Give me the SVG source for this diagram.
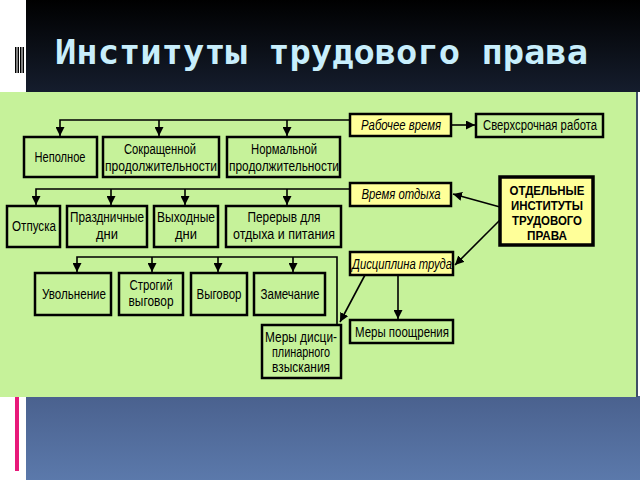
<svg xmlns="http://www.w3.org/2000/svg" width="640" height="480" viewBox="0 0 640 480">
<defs>
<linearGradient id="hdr" x1="0" y1="0" x2="0" y2="1"><stop offset="0" stop-color="#000000"/><stop offset="1" stop-color="#151d2d"/></linearGradient>
<linearGradient id="blu" x1="0" y1="0" x2="0" y2="1"><stop offset="0" stop-color="#4a618e"/><stop offset="1" stop-color="#5b79ab"/></linearGradient>
<marker id="ah" viewBox="0 0 10 10" refX="10" refY="5" markerWidth="9" markerHeight="9" markerUnits="userSpaceOnUse" orient="auto"><path d="M0,0 L10,5 L0,10 Z" fill="#000"/></marker>
<style>
.box{fill:#c6f29a;stroke:#000;stroke-width:2.5}
.ybox{fill:#ffff99;stroke:#000;stroke-width:2.5}
.main{fill:#ffff99;stroke:#000;stroke-width:3.5}
.t{font-family:"Liberation Sans","DejaVu Sans",sans-serif;font-size:14px;fill:#000;text-anchor:middle}
.i{font-style:italic}
.b{font-weight:bold;font-size:13px}
.c line,.c path{stroke:#000;stroke-width:1.6;fill:none}
</style>
</defs>
<rect x="0" y="0" width="640" height="480" fill="#ffffff"/>
<rect x="26" y="0" width="614" height="92" fill="url(#hdr)"/>
<rect x="26" y="396" width="614" height="84" fill="url(#blu)"/>
<rect x="15" y="396" width="4" height="75" fill="#e8197a"/>
<g fill="#000">
<rect x="15" y="47" width="1.5" height="26"/><rect x="17.5" y="47" width="1.5" height="26"/><rect x="20" y="47" width="1.5" height="26"/><rect x="22.5" y="47" width="1.5" height="26"/>
</g>
<text x="55" y="64" font-family="DejaVu Sans Mono,monospace" font-weight="bold" font-size="33" fill="#c8eefc" textLength="533" lengthAdjust="spacingAndGlyphs">Институты трудового права</text>
<rect x="0" y="92" width="636" height="305" fill="#c6f29a"/>
<rect x="636" y="92" width="2" height="305" fill="#3e4e66"/>

<g class="c">
<path d="M350,120 H60 V136" marker-end="url(#ah)"/>
<line x1="159" y1="120" x2="159" y2="136" marker-end="url(#ah)"/>
<line x1="287" y1="120" x2="287" y2="136" marker-end="url(#ah)"/>
<line x1="451" y1="125" x2="475" y2="125" marker-end="url(#ah)"/>
<path d="M350,189 H36 V205" marker-end="url(#ah)"/>
<line x1="111" y1="189" x2="111" y2="205" marker-end="url(#ah)"/>
<line x1="185" y1="189" x2="185" y2="205" marker-end="url(#ah)"/>
<line x1="287" y1="189" x2="287" y2="205" marker-end="url(#ah)"/>
<line x1="500" y1="207" x2="453" y2="194" marker-end="url(#ah)"/>
<line x1="500" y1="220" x2="455" y2="265" marker-end="url(#ah)"/>
<line x1="398" y1="275" x2="398" y2="319" marker-end="url(#ah)"/>
<line x1="365" y1="275" x2="340" y2="322" marker-end="url(#ah)"/>
<path d="M337,325 V257 H77 V272" marker-end="url(#ah)"/>
<line x1="152" y1="257" x2="152" y2="272" marker-end="url(#ah)"/>
<line x1="218" y1="257" x2="218" y2="272" marker-end="url(#ah)"/>
<line x1="293" y1="257" x2="293" y2="272" marker-end="url(#ah)"/>
</g>

<g id="rabochee"><rect class="ybox" x="350" y="114" width="101" height="22"/><text class="t i" x="401" y="130" textLength="80" lengthAdjust="spacingAndGlyphs">Рабочее время</text></g>
<g id="sverh"><rect class="box" x="476" y="114" width="127" height="23"/><text class="t" x="540" y="130" textLength="114" lengthAdjust="spacingAndGlyphs">Сверхсрочная работа</text></g>
<g id="nepolnoe"><rect class="box" x="24" y="137" width="73" height="40"/><text class="t" x="60" y="162" textLength="51" lengthAdjust="spacingAndGlyphs">Неполное</text></g>
<g id="sokr"><rect class="box" x="103" y="137" width="116" height="40"/><text class="t" x="160" y="154" textLength="72" lengthAdjust="spacingAndGlyphs">Сокращенной</text><text class="t" x="161" y="171" textLength="112" lengthAdjust="spacingAndGlyphs">продолжительности</text></g>
<g id="norm"><rect class="box" x="227" y="137" width="113" height="40"/><text class="t" x="284" y="154" textLength="66" lengthAdjust="spacingAndGlyphs">Нормальной</text><text class="t" x="284" y="171" textLength="110" lengthAdjust="spacingAndGlyphs">продолжительности</text></g>
<g id="otdyh"><rect class="ybox" x="350" y="183" width="101" height="23"/><text class="t i" x="401" y="199" textLength="79" lengthAdjust="spacingAndGlyphs">Время отдыха</text></g>
<g id="otpuska"><rect class="box" x="7" y="206" width="53" height="41"/><text class="t" x="34" y="231" textLength="44" lengthAdjust="spacingAndGlyphs">Отпуска</text></g>
<g id="prazd"><rect class="box" x="67" y="206" width="80" height="41"/><text class="t" x="107" y="222" textLength="74" lengthAdjust="spacingAndGlyphs">Праздничные</text><text class="t" x="107" y="239" textLength="22" lengthAdjust="spacingAndGlyphs">дни</text></g>
<g id="vyhod"><rect class="box" x="154" y="206" width="64" height="41"/><text class="t" x="186" y="222" textLength="58" lengthAdjust="spacingAndGlyphs">Выходные</text><text class="t" x="186" y="239" textLength="22" lengthAdjust="spacingAndGlyphs">дни</text></g>
<g id="pererыv"><rect class="box" x="226" y="206" width="115" height="41"/><text class="t" x="284" y="222" textLength="73" lengthAdjust="spacingAndGlyphs">Перерыв для</text><text class="t" x="284" y="239" textLength="102" lengthAdjust="spacingAndGlyphs">отдыха и питания</text></g>
<g id="institutes"><rect class="main" x="500" y="177" width="93" height="68"/><text class="t b" x="547" y="195" textLength="75" lengthAdjust="spacingAndGlyphs">ОТДЕЛЬНЫЕ</text><text class="t b" x="547" y="210" textLength="72" lengthAdjust="spacingAndGlyphs">ИНСТИТУТЫ</text><text class="t b" x="547" y="225" textLength="70" lengthAdjust="spacingAndGlyphs">ТРУДОВОГО</text><text class="t b" x="547" y="240" textLength="40" lengthAdjust="spacingAndGlyphs">ПРАВА</text></g>
<g id="discipl"><rect class="ybox" x="350" y="252" width="103" height="23"/><text class="t i" x="402" y="269" textLength="100" lengthAdjust="spacingAndGlyphs">Дисциплина труда</text></g>
<g id="pooshr"><rect class="box" x="350" y="320" width="103" height="23"/><text class="t" x="402" y="337" textLength="94" lengthAdjust="spacingAndGlyphs">Меры поощрения</text></g>
<g id="vzysk"><rect class="box" x="262" y="325" width="79" height="53"/><text class="t" x="301" y="342" textLength="72" lengthAdjust="spacingAndGlyphs">Меры дисци-</text><text class="t" x="301" y="357" textLength="58" lengthAdjust="spacingAndGlyphs">плинарного</text><text class="t" x="301" y="372" textLength="58" lengthAdjust="spacingAndGlyphs">взыскания</text></g>
<g id="uvoln"><rect class="box" x="35" y="273" width="76" height="42"/><text class="t" x="74" y="299" textLength="64" lengthAdjust="spacingAndGlyphs">Увольнение</text></g>
<g id="strogiy"><rect class="box" x="119" y="273" width="64" height="42"/><text class="t" x="151" y="290" textLength="43" lengthAdjust="spacingAndGlyphs">Строгий</text><text class="t" x="151" y="306" textLength="45" lengthAdjust="spacingAndGlyphs">выговор</text></g>
<g id="vygovor"><rect class="box" x="191" y="273" width="56" height="42"/><text class="t" x="219" y="299" textLength="45" lengthAdjust="spacingAndGlyphs">Выговор</text></g>
<g id="zamech"><rect class="box" x="254" y="273" width="71" height="42"/><text class="t" x="290" y="299" textLength="59" lengthAdjust="spacingAndGlyphs">Замечание</text></g>
</svg>
